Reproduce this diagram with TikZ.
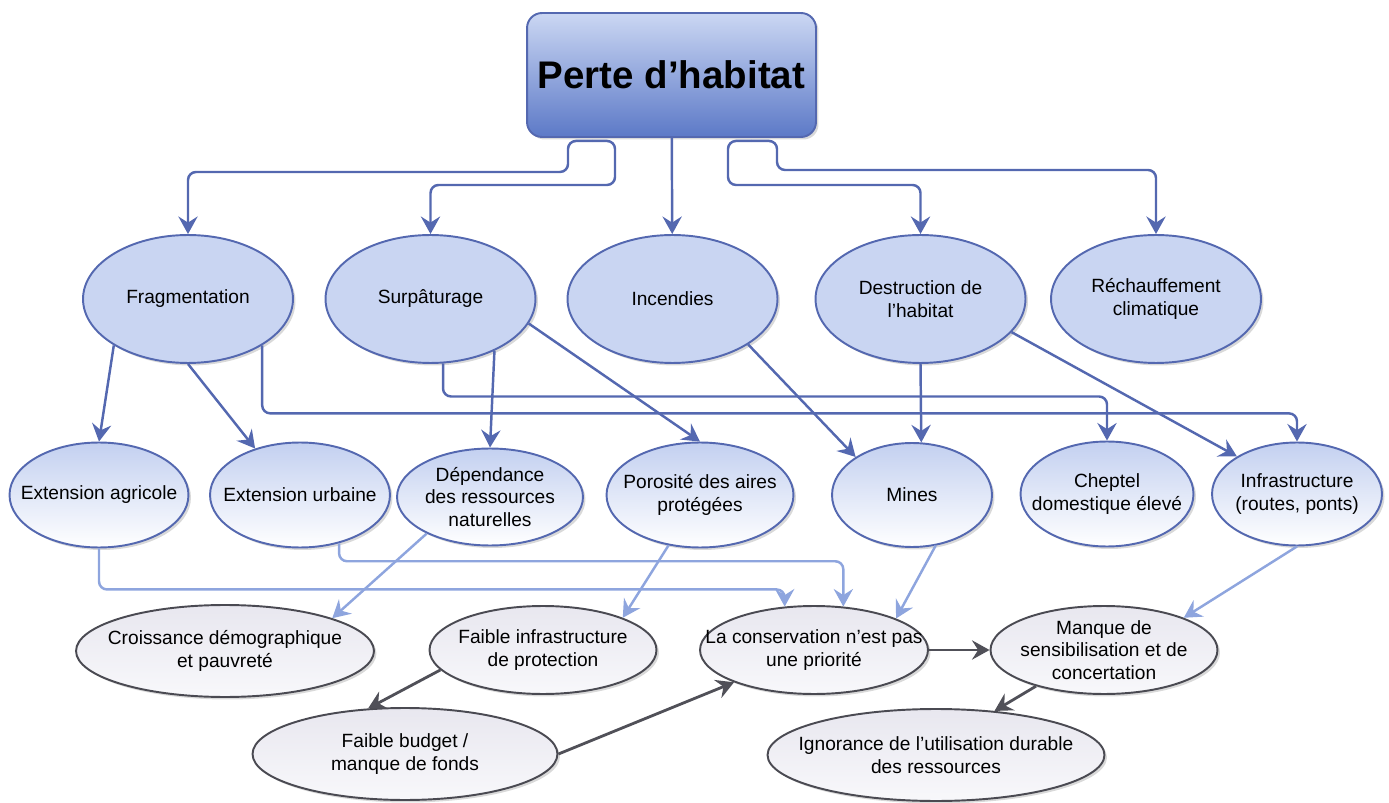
\documentclass[tikz,border=0pt]{standalone}
\usepackage{fontspec}
\setmainfont{Liberation Sans}
\usetikzlibrary{arrows.meta,shapes.geometric,shadows}

\definecolor{cLink}{HTML}{5468B0}
\definecolor{cLight}{HTML}{8EA5DE}
\definecolor{cDark}{HTML}{505058}
\definecolor{causeFill}{HTML}{C9D5F2}
\definecolor{factorTop}{HTML}{C3D0F0}
\definecolor{effectTop}{HTML}{E8E7EF}
\definecolor{effectBot}{HTML}{F8F8FB}
\definecolor{effectLine}{HTML}{4A4A52}
\definecolor{rootTop}{HTML}{CBD7F3}
\definecolor{rootBot}{HTML}{5C79C7}

\begin{document}
\begin{tikzpicture}[x=0.02cm, y=-0.02cm,
    every node/.style={font=\fontsize{10.9}{12.8}\selectfont, align=center},
    softshadow/.style={drop shadow={shadow xshift=0.05cm, shadow yshift=-0.05cm, opacity=0.3}},
    oval/.style={ellipse, line width=1.1pt, inner xsep=-18pt, inner ysep=-4pt, softshadow},
    cause/.style={oval, draw=cLink, fill=causeFill, minimum width=4.2cm, minimum height=2.56cm},
    factor/.style={oval, draw=cLink, top color=factorTop, bottom color=white},
    effect/.style={oval, draw=effectLine, top color=effectTop, bottom color=effectBot},
    tip/.style={-{Stealth[length=10pt, width=11pt, inset=3.5pt]}},
    mainlink/.style={draw=cLink, line width=1.4pt, rounded corners=0.16cm, tip},
    sublink/.style={draw=cLight, line width=1.4pt, rounded corners=0.16cm, tip},
    darkflow/.style={draw=cDark, line width=1.6pt, tip}]
    \useasboundingbox (0,0) rectangle (1389,803);

    \node[draw=cLink, line width=1.1pt, rounded corners=0.3cm, top color=rootTop, bottom color=rootBot,
          minimum width=5.78cm, minimum height=2.48cm, softshadow,
          font=\fontsize{21.9}{26}\selectfont\bfseries] (root) at (671.5,75) {Perte d’habitat};

    \node[cause] (frag) at (188,299) {Fragmentation};
    \node[cause] (surp) at (430.5,299) {Surpâturage};
    \node[cause] (inc) at (672.5,299) {Incendies};
    \node[cause] (destr) at (920.5,299) {Destruction de\\l’habitat};
    \node[cause] (rech) at (1156,299) {Réchauffement\\climatique};

    \node[factor, minimum width=3.58cm, minimum height=2.1cm] (agri) at (99,495) {Extension agricole};
    \node[factor, minimum width=3.6cm, minimum height=2.1cm] (urb) at (300,495) {Extension urbaine};
    \node[factor, minimum width=3.72cm, minimum height=1.94cm] (dep) at (490,497) {Dépendance\\des ressources\\naturelles};
    \node[factor, minimum width=3.74cm, minimum height=2.1cm] (poro) at (700,495) {Porosité des aires\\protégées};
    \node[factor, minimum width=3.2cm, minimum height=2.08cm] (mines) at (912,495) {Mines};
    \node[factor, minimum width=3.46cm, minimum height=2.1cm] (chep) at (1107,494) {Cheptel\\domestique élevé};
    \node[factor, minimum width=3.4cm, minimum height=2.06cm] (infra) at (1297,494) {Infrastructure\\(routes, ponts)};

    \node[effect, minimum width=5.96cm, minimum height=1.84cm] (crois) at (225,651) {Croissance démographique\\et pauvreté};
    \node[effect, minimum width=4.54cm, minimum height=1.76cm] (finfra) at (543,650) {Faible infrastructure\\de protection};
    \node[effect, minimum width=4.56cm, minimum height=1.76cm] (cons) at (814,650) {La conservation n’est pas\\une priorité};
    \node[effect, minimum width=4.54cm, minimum height=1.76cm] (manq) at (1104,650) {Manque de\\sensibilisation et de\\concertation};
    \node[effect, minimum width=6.1cm, minimum height=1.84cm] (budget) at (405,754) {Faible budget /\\manque de fonds};
    \node[effect, minimum width=6.74cm, minimum height=1.84cm] (ignor) at (936,755) {Ignorance de l’utilisation durable\\des ressources};

    % from the root
    \coordinate (forkL) at ([xshift=-1.59cm, yshift=-0.06cm]root.south);
    \coordinate (forkR) at ([xshift=1.61cm, yshift=-0.06cm]root.south);
    \draw[mainlink] (forkL) -| (568,172) -| (frag);
    \draw[mainlink] (forkL) -| (615,185) -| (surp);
    \draw[mainlink] (root) -- (inc);
    \draw[mainlink] (forkR) -| (728,185) -| (destr);
    \draw[mainlink] (forkR) -| (777,170) -| (rech);

    % causes to factors
    \draw[mainlink] (frag.212) -- (agri.north);
    \draw[mainlink] (frag.south) -- (urb.134);
    \draw[mainlink] (frag.-32) -- ++(0,68) -| (infra);
    \draw[mainlink] (surp.-39) -- (dep.north);
    \draw[mainlink] (surp.-14) -- (poro.north);
    \draw[mainlink] (surp.-79) -- ++(0,33) -| (chep);
    \draw[mainlink] (inc.-31) -- (mines.146);
    \draw[mainlink] (destr.south) -- (mines.80);
    \draw[mainlink] (destr.-20) -- (infra.148);

    % factors to effects
    \draw[sublink] (agri.south) -- ++(0,41) -| (cons.124);
    \draw[sublink] (urb.-51) -- ++(0,18) -| (cons.56);
    \draw[sublink] (dep.210) -- (crois.17);
    \draw[sublink] (poro.238) -- (finfra.22);
    \draw[sublink] (mines.-65) -- (cons.21);
    \draw[sublink] (infra.south) -- (manq.22);

    \draw[darkflow] (finfra.191) -- (budget.129);
    \draw[darkflow] (budget.east) -- (cons.202);
    \draw[darkflow] (cons.east) -- (manq.west);
    \draw[darkflow] (manq.208) -- (ignor.37);
\end{tikzpicture}
\end{document}
